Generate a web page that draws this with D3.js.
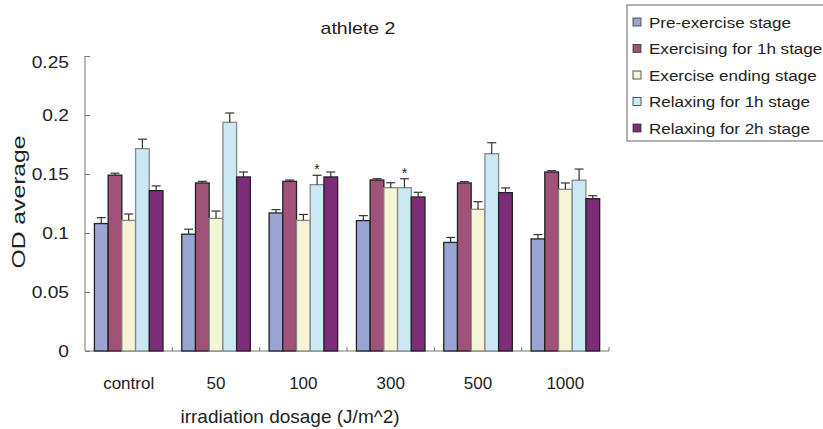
<!DOCTYPE html>
<html>
<head>
<meta charset="utf-8">
<script src="https://cdn.jsdelivr.net/npm/d3@7"></script>
<style>
  body { margin: 0; background: #fff; }
  svg text { font-family: "Liberation Sans", Arial, sans-serif; fill: #222; }
</style>
</head>
<body>
<div id="chart"></div>
<script>
// chart data
const categories = ['control', '50', '100', '300', '500', '1000']
const seriesNames = ['Pre-exercise stage', 'Exercising for 1h stage', 'Exercise ending stage', 'Relaxing for 1h stage', 'Relaxing for 2h stage']

const preExercise  = [0.108, 0.099, 0.117, 0.1105, 0.092, 0.095]
const exercising1h = [0.149, 0.1424, 0.1438, 0.1449, 0.1424, 0.1517]
const exerciseEnd  = [0.1107, 0.1124, 0.1107, 0.1384, 0.1201, 0.137]
const relaxing1h   = [0.1715, 0.1938, 0.141, 0.1384, 0.1672, 0.1447]
const relaxing2h   = [0.1359, 0.1475, 0.1475, 0.1305, 0.1342, 0.1291]

const errPreExercise  = [0.005, 0.0042, 0.0028, 0.0042, 0.0042, 0.0037]
const errExercising1h = [0.0017, 0.0014, 0.0011, 0.0011, 0.0011, 0.0011]
const errExerciseEnd  = [0.0054, 0.0062, 0.005, 0.0042, 0.0064, 0.0054]
const errRelaxing1h   = [0.008, 0.0079, 0.0079, 0.0076, 0.0093, 0.0095]
const errRelaxing2h   = [0.004, 0.0042, 0.0042, 0.004, 0.004, 0.0025]

// significance marks over the "Relaxing for 1h" bars
const marksRelaxing1h = ['', '', '*', '*', '', '']

const yTicks = [0, 0.05, 0.1, 0.15, 0.2, 0.25]

const values = [preExercise, exercising1h, exerciseEnd, relaxing1h, relaxing2h]
const errors = [errPreExercise, errExercising1h, errExerciseEnd, errRelaxing1h, errRelaxing2h]
const fills = ['#9ba5d4', '#a05278', '#f5f4d6', '#cbe9f4', '#7c2d79']
const strokes = ['#222', '#222', '#888', '#888', '#222']

const width = 823, height = 429
const plot = {left: 85, right: 609, top: 56, bottom: 351}

const svg = d3.select('#chart').append('svg')
    .attr('width', width)
    .attr('height', height)

const x0 = d3.scaleBand().domain(categories).range([plot.left, plot.right])
const bw = x0.bandwidth()
const x1 = d3.scaleBand().domain(seriesNames).range([bw * 0.108, bw * 0.893])
const y = d3.scaleLinear().domain([0, 0.25]).range([plot.bottom, plot.top])

// flatten into rows for drawing
let rows = []
categories.forEach((c, ci) => {
    seriesNames.forEach((s, si) => {
        rows.push({cat: c, series: s, si: si, value: values[si][ci], err: errors[si][ci],
                   mark: si == 3 ? marksRelaxing1h[ci] : ''})
    })
})

// title
svg.append('g')
    .attr('transform', 'translate(358,34) scale(1.22,1)')
    .append('text')
    .attr('text-anchor', 'middle')
    .style('font-size', '16px')
    .text('athlete 2')

// y axis
const yAxis = svg.append('g')
    .attr('transform', `translate(${plot.left},0)`)
    .call(d3.axisLeft(y).tickValues(yTicks).tickSize(-5).tickFormat(d => d3.format('')(d)))

yAxis.select('.domain').attr('stroke', '#777').attr('d', `M0,${plot.top}V${plot.bottom}`)
yAxis.selectAll('.tick line').attr('stroke', '#777')
yAxis.selectAll('.tick text')
    .attr('x', null)
    .attr('dy', (d, i) => i == yTicks.length - 1 ? '0.7em' : '0.36em')
    .attr('transform', 'translate(-16,0) scale(1.2,1)')
    .style('font-size', '16px')
    .attr('fill', '#222')

// x axis line and group boundary ticks
svg.append('line')
    .attr('x1', plot.left).attr('x2', plot.right)
    .attr('y1', plot.bottom).attr('y2', plot.bottom)
    .attr('stroke', '#777')

svg.append('g').selectAll('line')
    .data(categories)
    .enter()
    .append('line')
    .attr('x1', d => x0(d) + bw).attr('x2', d => x0(d) + bw)
    .attr('y1', plot.bottom).attr('y2', plot.bottom - 4)
    .attr('stroke', '#777')

svg.append('g').selectAll('text')
    .data(categories)
    .enter()
    .append('text')
    .attr('x', d => x0(d) + bw / 2)
    .attr('y', 389)
    .attr('text-anchor', 'middle')
    .style('font-size', '17px')
    .text(d => d)

// axis titles
svg.append('text')
    .attr('x', 290).attr('y', 423)
    .attr('text-anchor', 'middle')
    .style('font-size', '19px')
    .text('irradiation dosage (J/m^2)')

svg.append('g')
    .attr('transform', 'translate(25,202) rotate(-90) scale(1.3,1)')
    .append('text')
    .attr('text-anchor', 'middle')
    .style('font-size', '19px')
    .text('OD average')

// bars
const bars = svg.append('g').selectAll('g')
    .data(rows)
    .enter()
    .append('g')
    .attr('transform', d => `translate(${x0(d.cat) + x1(d.series)},0)`)

bars.append('rect')
    .attr('x', 0)
    .attr('y', d => y(d.value))
    .attr('width', x1.bandwidth())
    .attr('height', d => y(0) - y(d.value))
    .attr('fill', d => fills[d.si])
    .attr('stroke', d => strokes[d.si])
    .attr('stroke-width', 1.3)

// error bars, upper half only
bars.append('line')
    .attr('x1', x1.bandwidth() / 2).attr('x2', x1.bandwidth() / 2)
    .attr('y1', d => y(d.value)).attr('y2', d => y(d.value + d.err))
    .attr('stroke', '#333').attr('stroke-width', 1.2)

bars.append('line')
    .attr('x1', x1.bandwidth() / 2 - 4.5).attr('x2', x1.bandwidth() / 2 + 4.5)
    .attr('y1', d => y(d.value + d.err)).attr('y2', d => y(d.value + d.err))
    .attr('stroke', '#333').attr('stroke-width', 1.2)

bars.filter(d => d.mark)
    .append('text')
    .attr('x', x1.bandwidth() / 2)
    .attr('y', d => y(d.value + d.err) - 1)
    .attr('text-anchor', 'middle')
    .style('font-size', '14px')
    .text(d => d.mark)

// legend
const legend = svg.append('g')
legend.append('rect')
    .attr('x', 627).attr('y', 5)
    .attr('width', 200).attr('height', 136)
    .attr('fill', 'none')
    .attr('stroke', '#666')

const items = legend.selectAll('g.item')
    .data(seriesNames)
    .enter()
    .append('g')
    .attr('class', 'item')
    .attr('transform', (d, i) => `translate(633,${22 + i * 26.5})`)

items.append('rect')
    .attr('x', 0).attr('y', -4)
    .attr('width', 8).attr('height', 8)
    .attr('fill', (d, i) => fills[i])
    .attr('stroke', '#333')
    .attr('stroke-width', 0.8)

items.append('g')
    .attr('transform', 'translate(16,5.5) scale(1.1,1)')
    .append('text')
    .style('font-size', '15.5px')
    .text(d => d)
</script>
</body>
</html>
